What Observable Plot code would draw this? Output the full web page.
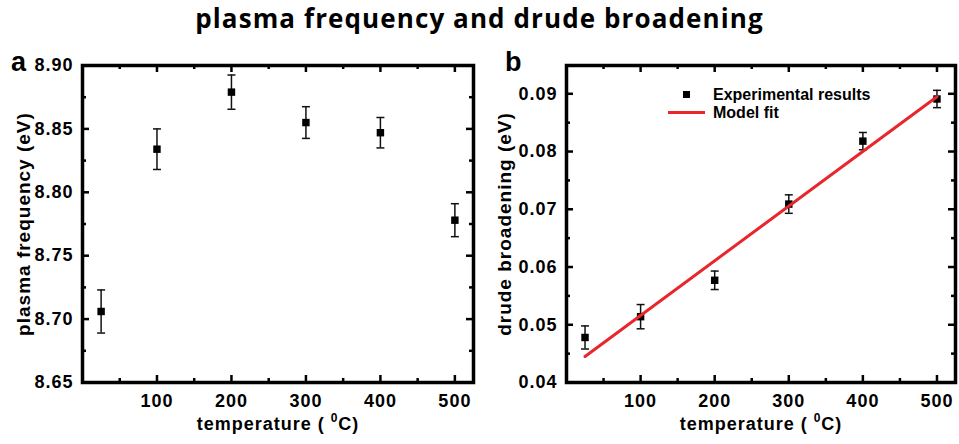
<!DOCTYPE html>
<html><head><meta charset="utf-8">
<script src="https://cdn.jsdelivr.net/npm/d3@7"></script>
<script src="https://cdn.jsdelivr.net/npm/@observablehq/plot@0.6"></script>
<style>
body{margin:0;background:#fff;}
#wrap{position:relative;width:959px;height:444px;overflow:hidden;background:#fff;}
#title{position:absolute;left:0;top:5px;width:959px;text-align:center;font:bold 26px "Open Sans",sans-serif;line-height:26px;letter-spacing:1.1px;color:#000;}
.panel{position:absolute;top:0;}
.panel svg, .panel svg text{font-family:"Liberation Sans",Arial,sans-serif !important;font-weight:bold !important;}
.panel text{letter-spacing:1px;}
.lbl{position:absolute;font:bold 27px "Liberation Sans",Arial,sans-serif;line-height:27px;color:#000;}
.leg{position:absolute;font:bold 16px "Liberation Sans",Arial,sans-serif;line-height:16px;color:#000;white-space:nowrap;}
</style></head>
<body><div id="wrap">
<div id="title">plasma frequency and drude broadening</div>
<div id="pa" class="panel" style="left:0"></div>
<div id="pb" class="panel" style="left:480px"></div>
<div class="lbl" style="left:11px;top:49px">a</div>
<div class="lbl" style="left:505px;top:49px">b</div>
<div style="position:absolute;left:683px;top:91px;width:7px;height:7px;background:#000"></div>
<div class="leg" style="left:713px;top:87px">Experimental results</div>
<div style="position:absolute;left:668px;top:111px;width:37px;height:3px;background:#e8262b"></div>
<div class="leg" style="left:713px;top:105px">Model fit</div>
</div>
<script>
// temperatures (°C)
const temps = [25, 100, 200, 300, 400, 500];
// panel a: plasma frequency (eV) and error
const plasmaFreq = [8.706, 8.834, 8.879, 8.855, 8.847, 8.778];
const plasmaErr  = [0.017, 0.016, 0.0135, 0.0125, 0.012, 0.013];
// panel b: drude broadening (eV) and error
const drudeBroad = [0.0478, 0.0514, 0.0577, 0.0709, 0.0818, 0.0891];
const drudeErr   = [0.0020, 0.0021, 0.0016, 0.0016, 0.0015, 0.0015];
// model fit line
const fitTemps  = [25, 500];
const fitValues = [0.0445, 0.0895];
// ticks
const xMajor = [100, 200, 300, 400, 500];
const xMinor = [50, 150, 250, 350, 450];
const yMajorA = [8.65, 8.70, 8.75, 8.80, 8.85, 8.90];
const yMinorA = [8.675, 8.725, 8.775, 8.825, 8.875];
const yMajorB = [0.04, 0.05, 0.06, 0.07, 0.08, 0.09];
const yMinorB = [0.045, 0.055, 0.065, 0.075, 0.085];

const H = 444, MT = 65, MB = 62;
const capSym = {draw(ctx, size){ const r = Math.sqrt(size / Math.PI); ctx.moveTo(-r, 0); ctx.lineTo(r, 0); }};

function panel({values, errs, yDomain, yMajor, yMinor, yLabel, width, marginLeft, marginRight, labelDx, extra = []}) {
  const data = temps.map((t, i) => ({t, v: values[i], lo: values[i] - errs[i], hi: values[i] + errs[i]}));
  const fh = H - MT - MB, fw = width - marginLeft - marginRight;
  const tk = {strokeWidth: 2.5, stroke: "#000"};
  const svg = Plot.plot({
    width, height: H, marginTop: MT, marginBottom: MB, marginLeft, marginRight,
    x: {domain: [0, 525]},
    y: {domain: yDomain},
    style: {fontSize: "18px", color: "#000", background: "transparent", overflow: "visible"},
    marks: [
      Plot.axisX({ticks: xMajor, tickSize: 0, tickPadding: 12, label: null, fontSize: 18}),
      Plot.axisY({ticks: yMajor, tickSize: 0, tickPadding: 9, tickFormat: d3.format(".2f"), label: null, fontSize: 18}),
      Plot.tickX(xMajor, {x: d => d, insetTop: fh - 7, ...tk}),
      Plot.tickX(xMajor, {x: d => d, insetBottom: fh - 7, ...tk}),
      Plot.tickX(xMinor, {x: d => d, insetTop: fh - 4, ...tk}),
      Plot.tickX(xMinor, {x: d => d, insetBottom: fh - 4, ...tk}),
      Plot.tickY(yMajor, {y: d => d, insetRight: fw - 7, ...tk}),
      Plot.tickY(yMajor, {y: d => d, insetLeft: fw - 7, ...tk}),
      Plot.tickY(yMinor, {y: d => d, insetRight: fw - 4, ...tk}),
      Plot.tickY(yMinor, {y: d => d, insetLeft: fw - 4, ...tk}),
      Plot.ruleX(data, {x: "t", y1: "lo", y2: "hi", stroke: "#111", strokeWidth: 1.5}),
      Plot.dot(data, {x: "t", y: "hi", symbol: capSym, r: 4, stroke: "#111", strokeWidth: 1.5, fill: "none"}),
      Plot.dot(data, {x: "t", y: "lo", symbol: capSym, r: 4, stroke: "#111", strokeWidth: 1.5, fill: "none"}),
      Plot.dot(data, {x: "t", y: "v", symbol: "square", r: 4.2, fill: "#000", stroke: "none"}),
      ...extra,
      Plot.frame({stroke: "#000", strokeWidth: 3.5}),
      Plot.text([yLabel], {text: d => d, frameAnchor: "left", dx: labelDx, rotate: -90, fontSize: 19, textAnchor: "middle"}),
      Plot.text(["temperature ( 0C)"], {text: d => d, frameAnchor: "bottom", dy: 47, fontSize: 18, textAnchor: "middle"})
    ]
  });
  const t = d3.select(svg).selectAll("text").filter(function() { return this.textContent === "temperature ( 0C)"; });
  t.text(null);
  t.append("tspan").text("temperature ( ");
  t.append("tspan").attr("dy", -8).attr("font-size", 12).text("0");
  t.append("tspan").attr("dy", 8).text("C)");
  return svg;
}

document.getElementById("pa").appendChild(panel({
  values: plasmaFreq, errs: plasmaErr, yDomain: [8.65, 8.90], yMajor: yMajorA, yMinor: yMinorA,
  yLabel: "plasma frequency (eV)", width: 480, marginLeft: 82, marginRight: 7, labelDx: -59
}));

const fit = fitTemps.map((t, i) => ({t, v: fitValues[i]}));
document.getElementById("pb").appendChild(panel({
  values: drudeBroad, errs: drudeErr, yDomain: [0.04, 0.0949], yMajor: yMajorB, yMinor: yMinorB,
  yLabel: "drude broadening (eV)", width: 479, marginLeft: 86, marginRight: 4, labelDx: -62,
  extra: [Plot.line(fit, {x: "t", y: "v", stroke: "#e8262b", strokeWidth: 3})]
}));
</script>
</body></html>
